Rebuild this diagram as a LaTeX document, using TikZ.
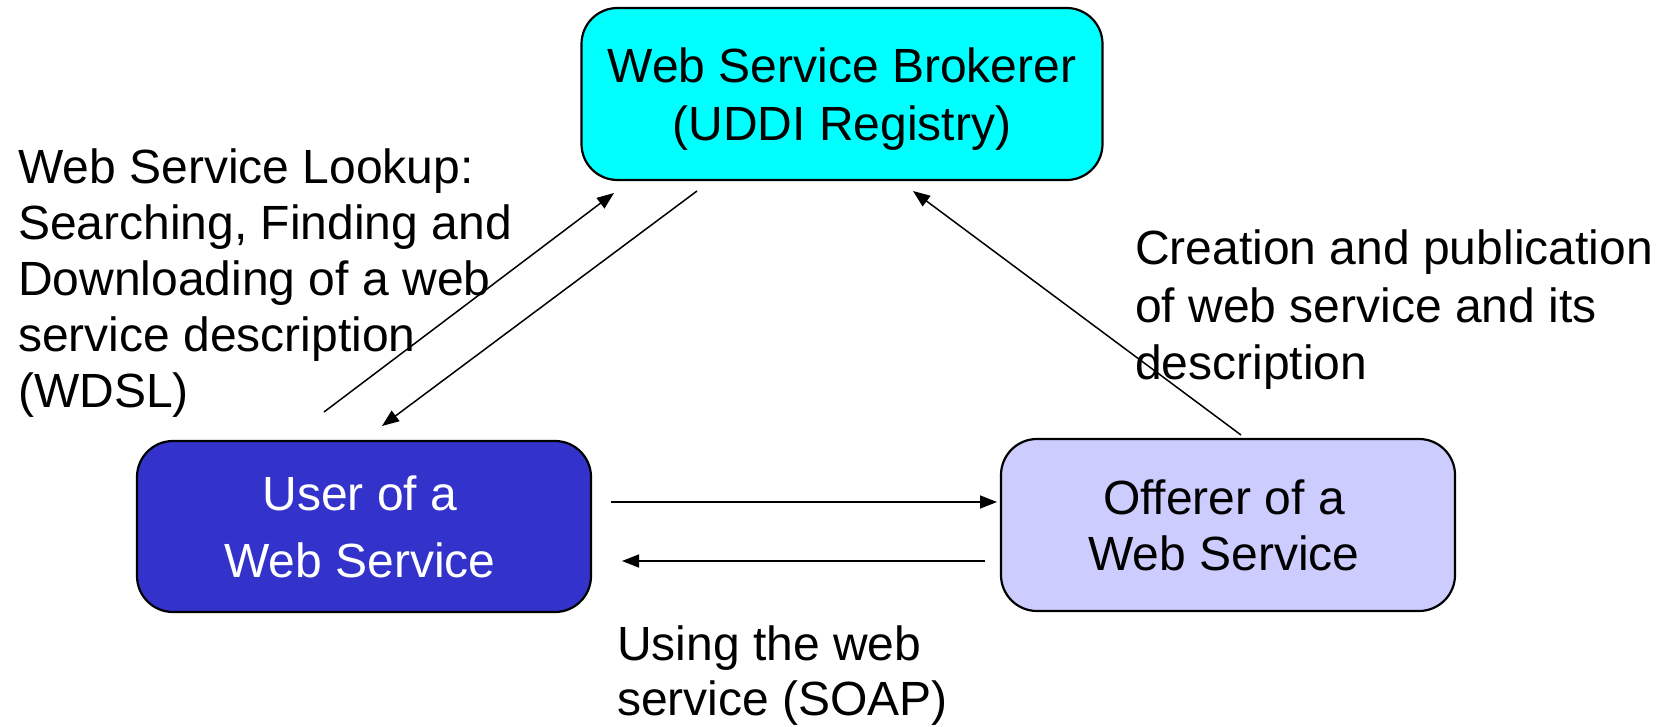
\documentclass[tikz,border=0pt]{standalone}
\usepackage{fontspec}
\setmainfont{Liberation Sans}
\usetikzlibrary{arrows.meta}
\definecolor{brokercyan}{HTML}{00FFFF}
\definecolor{userblue}{HTML}{3333CC}
\definecolor{offererlav}{HTML}{CCCCFF}
\begin{document}
\begin{tikzpicture}[x=1pt,y=-1pt,
  svcbox/.style={draw=black, line width=2.2pt, rounded corners=36pt, align=center, inner sep=0pt},
  lbl/.style={align=left, inner sep=0pt, anchor=north west, font=\fontsize{48}{56}\selectfont},
  conn/.style={-{Triangle[length=17pt,width=13pt]}, line width=1.5pt}]
\useasboundingbox (0,0) rectangle (1673,727);

\node[svcbox, fill=brokercyan, minimum width=521pt, minimum height=172pt,
      font=\fontsize{48}{58}\selectfont] (broker) at (842,94) {\rule{0pt}{45pt}Web Service Brokerer\\(UDDI Registry)};
\node[svcbox, fill=userblue, text=white, minimum width=454pt, minimum height=171pt,
      font=\fontsize{48}{67}\selectfont] (user) at (364,526.5) {User of a\hspace*{8pt}\\Web Service\hspace*{8pt}};
\node[svcbox, fill=offererlav, minimum width=454pt, minimum height=172pt,
      font=\fontsize{48}{56}\selectfont] (offerer) at (1228,525) {Offerer of a\hspace*{8pt}\\Web Service\hspace*{8pt}};

\node[lbl] (lookup) at (18,149) {Web Service Lookup:\\Searching, Finding and\\Downloading of a web\\service description\\(WDSL)};
\node[lbl, font=\fontsize{48}{57.5}\selectfont] (creation) at (1135,230) {Creation and publication\\of web service and its\\description};
\node[lbl, font=\fontsize{48}{55}\selectfont] (using) at (617,626) {Using the web\\service (SOAP)};

\coordinate (lkS) at (324,412);
\coordinate (lkE) at (614,193);
\coordinate (dnS) at (697,191);
\coordinate (dnE) at (382,426);
\coordinate (pbS) at (1241,435);
\coordinate (pbE) at (913,191);
\coordinate (rtS) at (611,502);
\coordinate (rtE) at (997,502);
\coordinate (ltS) at (985,561);
\coordinate (ltE) at (622,561);

\draw[conn] (lkS) -- (lkE);
\draw[conn] (dnS) -- (dnE);
\draw[conn] (pbS) -- (pbE);
\draw[conn] (rtS) -- (rtE);
\draw[conn] (ltS) -- (ltE);
\end{tikzpicture}
\end{document}
